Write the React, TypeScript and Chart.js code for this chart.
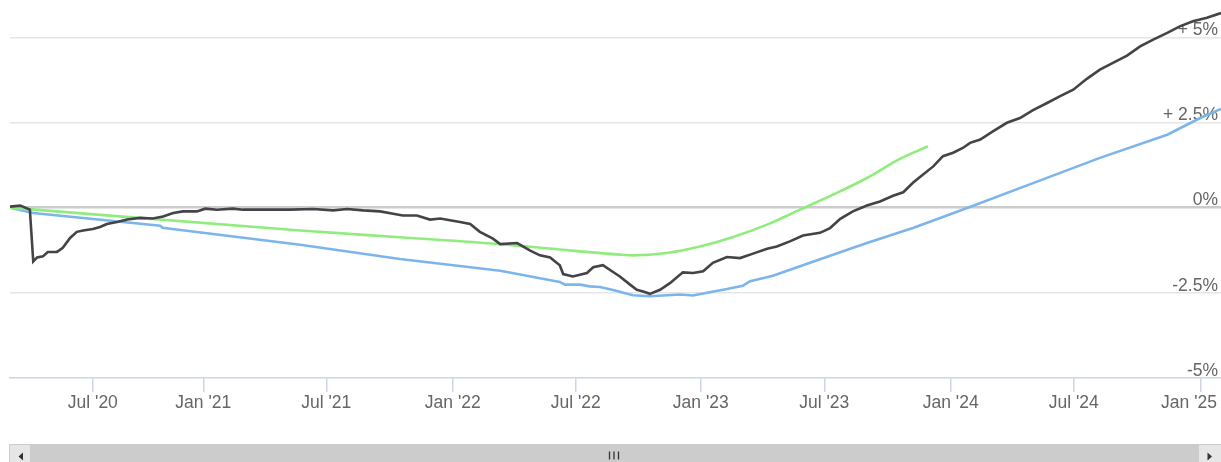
import React, { useEffect, useRef } from "react";
import { Chart, registerables } from "chart.js";

Chart.register(...registerables);

// Ordinal positions (data index units) for the x-axis ticks and their labels
const xTickPos = [17.1, 39.9, 65.3, 91.4, 116.8, 142.6, 168.1, 194.2, 219.6, 245.8];
const xTickLabels = ["Jul '20", "Jan '21", "Jul '21", "Jan '22", "Jul '22", "Jan '23", "Jul '23", "Jan '24", "Jul '24", "Jan '25"];
const yTicks = [-5, -2.5, 0, 2.5, 5];

// Dark series
const blackIdx = [0, 2.1, 4.1, 4.8, 5.6, 6.8, 7.8, 9.7, 10.9, 12.4, 13.8, 15.1, 17.1, 18.6, 20.0, 22.1, 24.2, 26.8, 29.5, 31.6, 33.7, 35.7, 38.6, 40.3, 42.7, 46.0, 48.1, 53.1, 57.8, 62.6, 66.7, 69.6, 72.9, 76.4, 79.1, 81.1, 84.0, 86.7, 88.8, 92.9, 95.0, 97.0, 99.7, 101.2, 104.7, 107.4, 109.4, 111.5, 113.5, 114.2, 116.2, 119.1, 120.4, 122.4, 124.5, 125.9, 128.0, 129.4, 130.7, 132.1, 134.2, 136.3, 138.9, 141.0, 143.1, 145.1, 148.0, 150.7, 153.4, 156.3, 158.3, 161.0, 163.7, 167.2, 169.3, 171.4, 174.0, 176.9, 179.6, 182.3, 184.4, 186.4, 188.5, 190.6, 192.6, 194.7, 196.7, 198.2, 200.3, 202.9, 205.8, 208.5, 211.2, 214.1, 216.8, 219.5, 222.3, 225.0, 227.7, 230.6, 233.3, 236.0, 238.9, 241.5, 244.2, 247.1, 250];
const blackValues = [0.03, 0.06, -0.06, -1.58, -1.46, -1.43, -1.30, -1.30, -1.18, -0.89, -0.71, -0.67, -0.63, -0.57, -0.48, -0.42, -0.35, -0.30, -0.32, -0.26, -0.16, -0.11, -0.11, -0.03, -0.06, -0.03, -0.06, -0.06, -0.06, -0.04, -0.08, -0.04, -0.08, -0.11, -0.18, -0.23, -0.23, -0.35, -0.32, -0.42, -0.48, -0.71, -0.91, -1.07, -1.04, -1.26, -1.40, -1.46, -1.69, -1.95, -2.02, -1.92, -1.75, -1.69, -1.89, -2.02, -2.26, -2.41, -2.46, -2.53, -2.41, -2.21, -1.90, -1.92, -1.87, -1.62, -1.45, -1.48, -1.35, -1.21, -1.14, -0.99, -0.82, -0.74, -0.60, -0.33, -0.11, 0.06, 0.18, 0.35, 0.45, 0.73, 0.97, 1.21, 1.51, 1.61, 1.75, 1.90, 2.00, 2.24, 2.49, 2.63, 2.86, 3.07, 3.27, 3.46, 3.78, 4.05, 4.25, 4.46, 4.73, 4.93, 5.13, 5.32, 5.47, 5.57, 5.71];

// Blue series
const blueIdx = [0, 4.8, 31.0, 31.5, 59.9, 80.5, 101.2, 113.5, 114.6, 117.7, 119.7, 121.8, 124.5, 128.6, 132.1, 138.3, 141.0, 143.1, 148.0, 151.3, 152.8, 157.5, 163.1, 169.9, 176.9, 183.7, 186.4, 197.6, 211.2, 225.0, 238.9, 245.7, 250];
const blueValues = [0, -0.16, -0.53, -0.59, -1.09, -1.51, -1.85, -2.18, -2.26, -2.26, -2.31, -2.33, -2.42, -2.57, -2.60, -2.55, -2.58, -2.52, -2.39, -2.29, -2.16, -2.00, -1.72, -1.38, -1.04, -0.72, -0.60, -0.01, 0.72, 1.46, 2.14, 2.63, 2.90];

// Green series
const greenIdx = [0, 59.9, 80.5, 101.2, 113.5, 125.9, 128.6, 135.6, 142.4, 149.3, 156.3, 163.1, 169.9, 176.9, 183.7, 189.5];
const greenValues = [0, -0.67, -0.87, -1.07, -1.23, -1.38, -1.40, -1.33, -1.14, -0.86, -0.50, -0.06, 0.38, 0.87, 1.43, 1.80];

const toPoints = (xs: number[], ys: number[]) => xs.map((x, i) => ({ x, y: ys[i] }));

// Keep axis labels inside the canvas like the original (last x label pulled in, y labels inset)
const labelFitPlugin = {
  id: "labelFit",
  beforeDraw(chart: any) {
    const xItems = chart.scales.x.getLabelItems();
    if (xItems.length) {
      const last = xItems[xItems.length - 1];
      last.options.textAlign = "right";
      last.options.translation[0] = chart.width - 4;
    }
    chart.scales.y.getLabelItems().forEach((it: any) => {
      it.options.translation[0] = chart.chartArea.right - 3;
    });
  },
};

const scrollbarPlugin = {
  id: "scrollbar",
  afterDraw(chart: any) {
    const ctx = chart.ctx as CanvasRenderingContext2D;
    const top = 444;
    const h = 21;
    const left = 9;
    const right = 1221;
    ctx.save();
    ctx.fillStyle = "#cccccc";
    ctx.fillRect(left, top, right - left, h);
    ctx.fillStyle = "#e6e6e6";
    ctx.strokeStyle = "#cccccc";
    ctx.lineWidth = 1;
    ctx.fillRect(left, top, 22, h);
    ctx.strokeRect(left + 0.5, top + 0.5, 21, h);
    ctx.fillRect(right - 23, top, 23, h);
    ctx.strokeRect(right - 22.5, top + 0.5, 23, h);
    ctx.fillStyle = "#333333";
    ctx.beginPath();
    ctx.moveTo(18.5, 456.5);
    ctx.lineTo(23, 452.5);
    ctx.lineTo(23, 460.5);
    ctx.closePath();
    ctx.fill();
    ctx.beginPath();
    ctx.moveTo(1212, 456.5);
    ctx.lineTo(1207.5, 452.5);
    ctx.lineTo(1207.5, 460.5);
    ctx.closePath();
    ctx.fill();
    ctx.strokeStyle = "#333333";
    ctx.lineWidth = 1.3;
    [609.5, 614, 618.5].forEach((gx) => {
      ctx.beginPath();
      ctx.moveTo(gx, 451.5);
      ctx.lineTo(gx, 459.5);
      ctx.stroke();
    });
    ctx.restore();
  },
};

export default function App() {
  const ref = useRef<HTMLCanvasElement>(null);
  useEffect(() => {
    document.body.style.margin = "0";
    Chart.defaults.font.family = '"Liberation Sans", Arial, Helvetica, sans-serif';
    const chart = new Chart(ref.current as HTMLCanvasElement, {
      type: "line",
      data: {
        datasets: [
          {
            label: "Index",
            data: toPoints(blackIdx, blackValues),
            borderColor: "#434348",
            borderWidth: 2.6,
            pointRadius: 0,
            tension: 0,
          },
          {
            label: "Trend",
            data: toPoints(greenIdx, greenValues),
            borderColor: "#90ed7d",
            borderWidth: 2.6,
            pointRadius: 0,
            cubicInterpolationMode: "monotone",
          },
          {
            label: "Average",
            data: toPoints(blueIdx, blueValues),
            borderColor: "#7cb5ec",
            borderWidth: 2.6,
            pointRadius: 0,
            tension: 0,
          },
        ],
      },
      options: {
        animation: false,
        responsive: false,
        devicePixelRatio: 1,
        layout: { padding: { left: 10, top: 10, right: 0, bottom: 48 } },
        plugins: { legend: { display: false }, tooltip: { enabled: false } },
        scales: {
          x: {
            type: "linear",
            min: 0,
            max: 250,
            afterBuildTicks: (s: any) => {
              s.ticks = xTickPos.map((v) => ({ value: v }));
            },
            afterFit: (s: any) => {
              s.paddingLeft = 0;
              s.paddingRight = 0;
            },
            border: { color: "#ccd6eb", width: 1.5 },
            grid: {
              drawOnChartArea: false,
              drawTicks: true,
              tickLength: 14,
              tickColor: "#ccd6eb",
              lineWidth: 1.5,
            },
            ticks: {
              autoSkip: false,
              maxRotation: 0,
              padding: 0.5,
              color: "#666666",
              font: { size: 17.5 },
              callback: (_v: any, i: number) => xTickLabels[i],
            },
          },
          y: {
            position: "right",
            min: -5,
            max: 5.8,
            afterBuildTicks: (s: any) => {
              s.ticks = yTicks.map((v) => ({ value: v }));
            },
            afterFit: (s: any) => {
              s.paddingTop = 0;
              s.paddingBottom = 0;
            },
            border: { display: false },
            grid: {
              drawTicks: false,
              color: (c: any) =>
                c.tick && c.tick.value === 0
                  ? "#cccccc"
                  : c.tick && c.tick.value === -5
                  ? "rgba(0,0,0,0)"
                  : "#e6e6e6",
              lineWidth: (c: any) => (c.tick && c.tick.value === 0 ? 2.5 : 1.5),
            },
            ticks: {
              mirror: true,
              padding: 0,
              labelOffset: -7,
              color: "#666666",
              font: { size: 17.5 },
              callback: (v: any) => (v > 0 ? `+ ${v}%` : `${v}%`),
            },
          },
        },
      },
      plugins: [labelFitPlugin, scrollbarPlugin],
    });
    return () => chart.destroy();
  }, []);
  return (
    <div style={{ position: "absolute", left: 0, top: 0, width: 1221, height: 462, background: "#ffffff" }}>
      <canvas ref={ref} width={1221} height={462} style={{ display: "block" }} />
    </div>
  );
}
